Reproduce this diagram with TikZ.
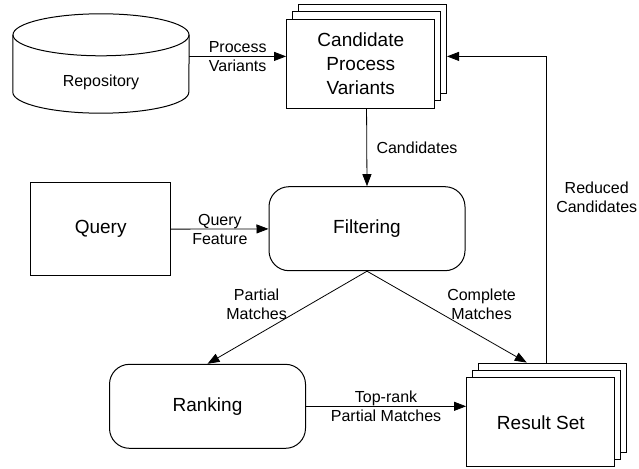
\documentclass[tikz,border=0pt]{standalone}
\usepackage{fontspec}
\setmainfont{Liberation Sans}
\usetikzlibrary{arrows.meta,fit,calc}

\begin{document}
\begin{tikzpicture}[x=1pt,y=-1pt,
  box/.style={draw,line width=1pt,fill=white,minimum width=148pt,minimum height=89pt,inner sep=1pt,align=center,font=\fontsize{19}{24}\selectfont},
  roundbox/.style={draw,line width=1pt,rounded corners=20pt,minimum width=196pt,minimum height=84pt,font=\fontsize{19}{24}\selectfont},
  flow/.style={-{Triangle[length=12pt,width=9pt]},line width=0.8pt},
  lbl/.style={font=\fontsize{16}{19}\selectfont,align=center}]
\useasboundingbox (0,0) rectangle (639,468);

% repository drum
\node(R)[minimum width=176pt,minimum height=99pt,inner sep=0pt,
  label={[name=RT,lbl,yshift=-18.5pt]center:Repository}] at (101,63.5) {};
\draw[line width=1pt] ($(R.north)+(0,21)$) ellipse [x radius=88pt,y radius=21pt];
\draw[line width=1pt] ($(R.north west)+(0,21)$) -- ($(R.south west)+(0,-21)$)
  arc[start angle=180,end angle=360,x radius=88pt,y radius=21pt] -- ($(R.north east)+(0,21)$);

\node(C3)[box] at (372.3,49) {};
\node(C2)[box] at (366.5,56.5) {};
\node(C)[box] at (360.8,63.8) {Candidate\\Process\\Variants};
\node(CG)[fit=(C)(C3),inner sep=0pt] {};

\node(Q)[draw,line width=1pt,minimum width=140pt,minimum height=93pt,font=\fontsize{19}{24}\selectfont] at (100.7,229.3) {Query};
\node(F)[roundbox] at (367,228.7) {Filtering};
\node(K)[roundbox] at (207.5,406.3) {Ranking};

\node(S3)[box] at (552.3,407.8) {};
\node(S2)[box] at (546.5,415.3) {};
\node(S)[box] at (540.8,422.3) {Result Set};
\node(SG)[fit=(S)(S3),inner sep=0pt] {};

\draw[flow] (R.east |- CG.west) --node(PV)[lbl]{Process\\Variants} (CG.west);
\draw[flow] (CG.south) --node(CD)[lbl,right=6pt]{Candidates} (F.north);
\draw[flow] (Q) --node(QF)[lbl]{Query\\Feature} (F);
\draw[flow] (F.south) --node(PM)[lbl,above left,inner sep=0pt,yshift=-3pt]{Partial\\Matches} (K.north);
\draw[flow] (F.south) --node(CM)[lbl,above right,inner sep=0pt,yshift=-3pt]{Complete\\Matches} ($(SG.north west)!0.377!(SG.north east)$);
\draw[flow] (K) --node(TR)[lbl]{Top-rank\\Partial Matches} (K -| SG.west);
\draw[flow] (SG.north) |-node(RC)[lbl,pos=0.27,right=6pt]{Reduced\\Candidates} (CG.east);

\end{tikzpicture}
\end{document}
